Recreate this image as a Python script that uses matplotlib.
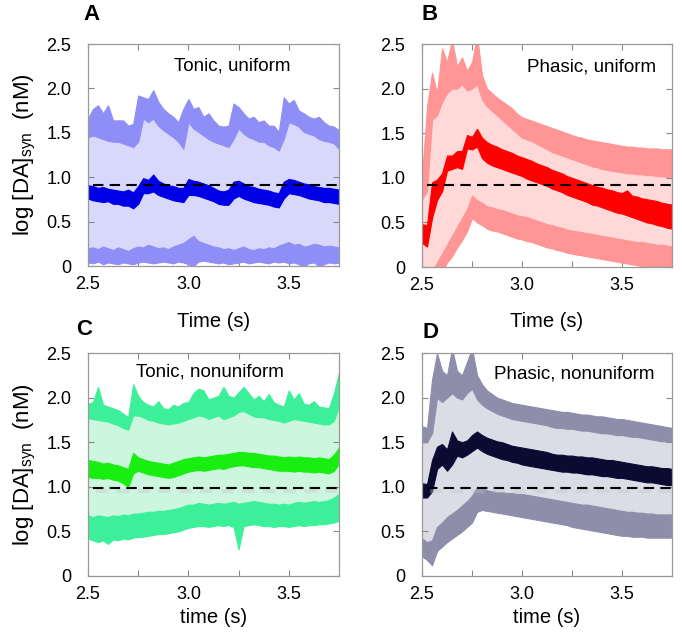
import numpy as np
import matplotlib
matplotlib.use('Agg')
import matplotlib.pyplot as plt

plt.rcParams['font.family'] = ['Liberation Sans', 'DejaVu Sans']
plt.rcParams['mathtext.fontset'] = 'custom'
plt.rcParams['mathtext.rm'] = 'Liberation Sans'

# sample times (s), every 0.025 s
T = np.linspace(2.5, 3.75, 51)

# ---- A: tonic, uniform ----
A_UP_HI = [1.66, 1.77, 1.81, 1.72, 1.81, 1.64, 1.64, 1.64, 1.58, 1.60, 1.92, 1.90, 1.88, 1.98, 1.85,
           1.77, 1.72, 1.68, 1.62, 1.77, 1.88, 1.77, 1.79, 1.68, 1.72, 1.64, 1.58, 1.57, 1.58, 1.83,
           1.79, 1.72, 1.66, 1.68, 1.62, 1.64, 1.58, 1.58, 1.51, 1.90, 1.83, 1.87, 1.75, 1.72, 1.68,
           1.66, 1.68, 1.62, 1.58, 1.57, 1.53]
A_UP_LO = [1.45, 1.47, 1.45, 1.43, 1.41, 1.40, 1.40, 1.38, 1.36, 1.34, 1.40, 1.66, 1.62, 1.66, 1.58,
           1.53, 1.49, 1.45, 1.40, 1.32, 1.62, 1.55, 1.51, 1.47, 1.43, 1.40, 1.38, 1.36, 1.34, 1.43,
           1.55, 1.49, 1.45, 1.43, 1.40, 1.40, 1.36, 1.34, 1.30, 1.43, 1.62, 1.60, 1.57, 1.51, 1.49,
           1.47, 1.43, 1.41, 1.40, 1.38, 1.32]
A_MEAN_HI = [0.91, 0.90, 0.88, 0.89, 0.87, 0.86, 0.85, 0.84, 0.86, 0.83, 0.90, 0.99, 0.97, 1.03, 0.96,
             0.93, 0.91, 0.90, 0.88, 0.88, 0.98, 0.96, 0.95, 0.93, 0.91, 0.88, 0.85, 0.84, 0.86, 0.95,
             0.96, 0.93, 0.90, 0.89, 0.87, 0.86, 0.85, 0.83, 0.82, 0.95, 0.98, 0.97, 0.95, 0.93, 0.92,
             0.90, 0.89, 0.88, 0.88, 0.87, 0.86]
A_MEAN_LO = [0.76, 0.74, 0.73, 0.72, 0.73, 0.70, 0.70, 0.68, 0.68, 0.65, 0.70, 0.82, 0.82, 0.84, 0.80,
             0.78, 0.76, 0.74, 0.73, 0.72, 0.80, 0.80, 0.79, 0.77, 0.75, 0.73, 0.70, 0.69, 0.69, 0.76,
             0.79, 0.76, 0.74, 0.72, 0.71, 0.70, 0.69, 0.67, 0.66, 0.76, 0.82, 0.81, 0.80, 0.78, 0.76,
             0.75, 0.74, 0.72, 0.72, 0.71, 0.70]
A_LOW_HI = [0.20, 0.21, 0.19, 0.22, 0.20, 0.18, 0.21, 0.19, 0.17, 0.20, 0.22, 0.21, 0.24, 0.22, 0.20,
            0.21, 0.19, 0.22, 0.24, 0.26, 0.30, 0.34, 0.28, 0.26, 0.24, 0.22, 0.21, 0.19, 0.20, 0.18,
            0.20, 0.22, 0.19, 0.18, 0.20, 0.19, 0.21, 0.20, 0.23, 0.25, 0.27, 0.24, 0.25, 0.22, 0.23,
            0.25, 0.24, 0.22, 0.23, 0.22, 0.21]
A_LOW_LO = [0.04, 0.03, 0.05, 0.02, 0.04, 0.03, 0.02, 0.04, 0.03, 0.02, 0.04, 0.05, 0.04, 0.03, 0.04,
            0.05, 0.04, 0.03, 0.05, 0.04, 0.02, 0.00, 0.05, 0.06, 0.05, 0.04, 0.03, 0.04, 0.02, 0.03,
            0.04, 0.05, 0.03, 0.04, 0.05, 0.04, 0.03, 0.05, 0.04, 0.05, 0.03, 0.04, 0.02, 0.00, 0.03,
            0.04, 0.00, 0.02, 0.04, 0.03, 0.04]

# ---- B: phasic, uniform ----
B_UP_HI = [1.02, 1.80, 2.18, 1.95, 2.45, 2.30, 2.55, 2.25, 2.35, 2.20, 2.30, 2.60, 2.15, 2.00, 1.95,
           1.90, 1.86, 1.82, 1.78, 1.72, 1.68, 1.66, 1.64, 1.62, 1.60, 1.58, 1.56, 1.54, 1.52, 1.50,
           1.48, 1.46, 1.45, 1.43, 1.42, 1.41, 1.40, 1.39, 1.38, 1.37, 1.36, 1.35, 1.35, 1.34, 1.34,
           1.33, 1.33, 1.33, 1.32, 1.32, 1.32]
B_UP_LO = [0.76, 0.85, 1.65, 1.70, 1.85, 1.95, 2.00, 2.00, 2.05, 1.98, 2.00, 2.05, 1.88, 1.80, 1.75,
           1.70, 1.65, 1.60, 1.55, 1.50, 1.45, 1.43, 1.41, 1.38, 1.35, 1.32, 1.29, 1.27, 1.25, 1.23,
           1.21, 1.19, 1.17, 1.15, 1.13, 1.12, 1.10, 1.09, 1.08, 1.07, 1.06, 1.05, 1.05, 1.04, 1.04,
           1.03, 1.03, 1.02, 1.02, 1.01, 1.01]
B_MEAN_HI = [0.48, 0.47, 0.95, 0.98, 1.05, 1.25, 1.25, 1.30, 1.30, 1.48, 1.46, 1.55, 1.45, 1.40, 1.37,
             1.35, 1.32, 1.30, 1.28, 1.25, 1.23, 1.21, 1.19, 1.16, 1.14, 1.12, 1.09, 1.07, 1.05, 1.02,
             1.00, 0.98, 0.96, 0.94, 0.92, 0.90, 0.89, 0.87, 0.86, 0.84, 0.83, 0.86, 0.80, 0.79, 0.77,
             0.76, 0.75, 0.74, 0.72, 0.71, 0.70]
B_MEAN_LO = [0.27, 0.23, 0.55, 0.75, 0.85, 1.08, 1.10, 1.12, 1.10, 1.33, 1.32, 1.35, 1.22, 1.17, 1.14,
             1.12, 1.10, 1.08, 1.06, 1.04, 1.02, 0.99, 0.97, 0.95, 0.93, 0.91, 0.88, 0.86, 0.84, 0.81,
             0.79, 0.77, 0.75, 0.73, 0.70, 0.69, 0.67, 0.65, 0.63, 0.61, 0.60, 0.58, 0.56, 0.54, 0.52,
             0.50, 0.49, 0.47, 0.46, 0.44, 0.43]
B_LOW_HI = [-0.20, -0.20, -0.05, 0.05, 0.15, 0.25, 0.35, 0.45, 0.55, 0.65, 0.80, 0.75, 0.72, 0.68, 0.67,
            0.65, 0.64, 0.62, 0.60, 0.58, 0.57, 0.56, 0.54, 0.52, 0.50, 0.48, 0.47, 0.45, 0.44, 0.42,
            0.41, 0.40, 0.39, 0.38, 0.37, 0.36, 0.35, 0.34, 0.33, 0.32, 0.31, 0.30, 0.29, 0.28, 0.28,
            0.27, 0.26, 0.25, 0.25, 0.24, 0.23]
B_LOW_LO = [-0.50, -0.50, -0.40, -0.20, -0.05, 0.05, 0.12, 0.22, 0.30, 0.40, 0.55, 0.50, 0.47, 0.43, 0.41,
            0.40, 0.38, 0.36, 0.34, 0.32, 0.31, 0.29, 0.28, 0.26, 0.24, 0.22, 0.21, 0.19, 0.18, 0.16,
            0.15, 0.14, 0.13, 0.12, 0.11, 0.10, 0.09, 0.08, 0.07, 0.06, 0.05, 0.04, 0.03, 0.02, 0.01,
            0.00, -0.01, -0.02, -0.03, -0.04, -0.05]

# ---- C: tonic, nonuniform ----
C_UP_HI = [1.93, 1.95, 2.12, 1.92, 1.90, 1.88, 1.86, 1.82, 1.78, 2.15, 2.02, 1.95, 1.92, 1.90, 1.96,
           1.88, 1.87, 1.92, 1.90, 1.94, 1.95, 2.05, 2.10, 2.08, 1.98, 2.00, 2.02, 2.12, 2.02, 2.00,
           2.06, 2.12, 2.05, 1.98, 2.02, 1.96, 2.04, 1.95, 1.92, 1.90, 2.08, 1.98, 2.05, 1.93, 1.92,
           1.96, 1.90, 1.89, 1.88, 2.05, 2.28]
C_UP_LO = [1.77, 1.76, 1.75, 1.74, 1.73, 1.71, 1.69, 1.66, 1.64, 1.80, 1.80, 1.78, 1.75, 1.74, 1.72,
           1.71, 1.70, 1.71, 1.72, 1.74, 1.76, 1.78, 1.80, 1.79, 1.76, 1.78, 1.80, 1.76, 1.78, 1.80,
           1.84, 1.85, 1.82, 1.79, 1.78, 1.78, 1.76, 1.75, 1.74, 1.72, 1.74, 1.76, 1.75, 1.74, 1.73,
           1.72, 1.71, 1.70, 1.70, 1.74, 1.90]
C_MEAN_HI = [1.30, 1.29, 1.28, 1.26, 1.27, 1.25, 1.24, 1.22, 1.20, 1.38, 1.33, 1.31, 1.29, 1.28, 1.27,
             1.26, 1.25, 1.27, 1.29, 1.31, 1.32, 1.33, 1.34, 1.33, 1.34, 1.35, 1.36, 1.36, 1.37, 1.38,
             1.39, 1.39, 1.38, 1.38, 1.37, 1.36, 1.35, 1.35, 1.34, 1.33, 1.34, 1.33, 1.34, 1.33, 1.33,
             1.32, 1.33, 1.32, 1.31, 1.36, 1.44]
C_MEAN_LO = [1.11, 1.10, 1.10, 1.09, 1.10, 1.08, 1.07, 1.04, 1.00, 1.15, 1.18, 1.16, 1.14, 1.13, 1.12,
             1.11, 1.10, 1.11, 1.13, 1.15, 1.17, 1.18, 1.19, 1.18, 1.19, 1.20, 1.21, 1.20, 1.22, 1.23,
             1.24, 1.24, 1.23, 1.22, 1.22, 1.21, 1.20, 1.19, 1.18, 1.18, 1.18, 1.17, 1.18, 1.17, 1.17,
             1.16, 1.17, 1.16, 1.15, 1.18, 1.26]
C_LOW_HI = [0.68, 0.66, 0.68, 0.67, 0.66, 0.68, 0.67, 0.69, 0.68, 0.70, 0.70, 0.71, 0.72, 0.72, 0.73,
            0.73, 0.74, 0.75, 0.76, 0.78, 0.80, 0.80, 0.82, 0.81, 0.80, 0.81, 0.82, 0.81, 0.82, 0.83,
            0.81, 0.82, 0.83, 0.84, 0.83, 0.82, 0.81, 0.81, 0.80, 0.81, 0.80, 0.82, 0.83, 0.82, 0.83,
            0.84, 0.83, 0.84, 0.85, 0.88, 0.92]
C_LOW_LO = [0.42, 0.40, 0.38, 0.40, 0.36, 0.41, 0.40, 0.42, 0.41, 0.43, 0.44, 0.44, 0.45, 0.46, 0.47,
            0.47, 0.48, 0.49, 0.50, 0.52, 0.54, 0.55, 0.56, 0.56, 0.55, 0.56, 0.57, 0.56, 0.57, 0.55,
            0.30, 0.56, 0.57, 0.58, 0.57, 0.56, 0.56, 0.55, 0.56, 0.56, 0.55, 0.56, 0.57, 0.56, 0.57,
            0.57, 0.58, 0.58, 0.59, 0.60, 0.62]

# ---- D: phasic, nonuniform ----
D_UP_HI = [1.68, 1.66, 2.20, 2.50, 2.30, 2.25, 2.55, 2.30, 2.25, 2.40, 2.55, 2.25, 2.15, 2.08, 2.04,
           2.00, 1.98, 1.96, 1.94, 1.93, 1.92, 1.91, 1.90, 1.89, 1.88, 1.87, 1.86, 1.85, 1.84, 1.84,
           1.83, 1.82, 1.81, 1.81, 1.80, 1.79, 1.79, 1.78, 1.77, 1.76, 1.76, 1.75, 1.74, 1.73, 1.72,
           1.71, 1.70, 1.69, 1.68, 1.67, 1.66]
D_UP_LO = [1.50, 1.50, 1.60, 2.00, 1.95, 2.00, 2.05, 2.00, 1.98, 2.05, 2.10, 1.98, 1.92, 1.88, 1.85,
           1.82, 1.80, 1.78, 1.76, 1.75, 1.74, 1.73, 1.72, 1.71, 1.70, 1.69, 1.67, 1.66, 1.66, 1.65,
           1.65, 1.64, 1.63, 1.63, 1.62, 1.61, 1.60, 1.60, 1.59, 1.58, 1.58, 1.57, 1.56, 1.56, 1.55,
           1.54, 1.53, 1.52, 1.51, 1.51, 1.50]
D_MEAN_HI = [1.04, 1.03, 1.30, 1.45, 1.48, 1.42, 1.62, 1.52, 1.50, 1.52, 1.58, 1.62, 1.58, 1.55, 1.53,
             1.51, 1.50, 1.48, 1.46, 1.45, 1.44, 1.43, 1.42, 1.41, 1.40, 1.39, 1.37, 1.36, 1.36, 1.35,
             1.35, 1.34, 1.34, 1.33, 1.33, 1.32, 1.31, 1.30, 1.30, 1.29, 1.28, 1.27, 1.26, 1.25, 1.24,
             1.23, 1.23, 1.22, 1.21, 1.21, 1.20]
D_MEAN_LO = [0.88, 0.88, 0.95, 1.20, 1.25, 1.18, 1.25, 1.35, 1.33, 1.36, 1.40, 1.44, 1.40, 1.37, 1.35,
             1.33, 1.31, 1.30, 1.28, 1.27, 1.25, 1.24, 1.23, 1.22, 1.21, 1.20, 1.19, 1.18, 1.17, 1.17,
             1.16, 1.16, 1.15, 1.14, 1.14, 1.13, 1.12, 1.12, 1.11, 1.10, 1.10, 1.09, 1.08, 1.07, 1.06,
             1.05, 1.05, 1.04, 1.03, 1.02, 1.02]
D_LOW_HI = [0.42, 0.38, 0.40, 0.55, 0.60, 0.66, 0.70, 0.74, 0.79, 0.84, 0.90, 1.00, 0.98, 0.96, 0.95,
            0.94, 0.94, 0.93, 0.93, 0.92, 0.92, 0.91, 0.90, 0.89, 0.88, 0.87, 0.86, 0.85, 0.84, 0.83,
            0.82, 0.81, 0.80, 0.80, 0.79, 0.78, 0.77, 0.76, 0.75, 0.74, 0.73, 0.72, 0.72, 0.71, 0.71,
            0.70, 0.70, 0.69, 0.69, 0.69, 0.69]
D_LOW_LO = [0.22, 0.18, 0.12, 0.28, 0.33, 0.38, 0.42, 0.46, 0.50, 0.55, 0.60, 0.72, 0.74, 0.73, 0.72,
            0.71, 0.70, 0.69, 0.68, 0.67, 0.66, 0.65, 0.64, 0.63, 0.62, 0.61, 0.60, 0.59, 0.58, 0.57,
            0.55, 0.54, 0.53, 0.52, 0.51, 0.50, 0.49, 0.48, 0.47, 0.46, 0.45, 0.45, 0.44, 0.44, 0.44,
            0.43, 0.43, 0.43, 0.43, 0.43, 0.43]

# dashed reference levels
REF = {'A': 0.915, 'B': 0.92, 'C': 0.99, 'D': 0.99}

PANELS = [
    # letter, rect, title, title pos, xlabel, xlabel pad, ylabel?, colours (fill, band, mean), traces
    ('A', [0.129, 0.5824, 0.368, 0.3485], 'Tonic, uniform', (0.574, 0.90), 'Time (s)', 14, True,
     ('#d8d8fa', '#8e8ef6', '#0000e6'),
     (A_UP_LO, A_UP_HI, A_MEAN_LO, A_MEAN_HI, A_LOW_LO, A_LOW_HI)),
    ('B', [0.6188, 0.5808, 0.3666, 0.350], 'Phasic, uniform', (0.68, 0.897), 'Time (s)', 13, False,
     ('#ffd8d8', '#ff9595', '#ff0000'),
     (B_UP_LO, B_UP_HI, B_MEAN_LO, B_MEAN_HI, B_LOW_LO, B_LOW_HI)),
    ('C', [0.129, 0.0958, 0.368, 0.350], 'Tonic, nonuniform', (0.486, 0.915), 'time (s)', 4, True,
     ('#ccf6de', '#3cf09a', '#18ee10'),
     (C_UP_LO, C_UP_HI, C_MEAN_LO, C_MEAN_HI, C_LOW_LO, C_LOW_HI)),
    ('D', [0.6188, 0.0958, 0.3666, 0.350], 'Phasic, nonuniform', (0.61, 0.906), 'time (s)', 4, False,
     ('#dcdce6', '#8e8eaa', '#0a0a32'),
     (D_UP_LO, D_UP_HI, D_MEAN_LO, D_MEAN_HI, D_LOW_LO, D_LOW_HI)),
]

fig = plt.figure(figsize=(6.82, 6.37), dpi=100)

for letter, rect, title, tpos, xlab, xpad, show_ylab, cols, tr in PANELS:
    ax = fig.add_axes(rect)
    up_lo, up_hi, m_lo, m_hi, lo_lo, lo_hi = [np.asarray(v) for v in tr]
    fill_c, band_c, mean_c = cols
    ax.fill_between(T, lo_lo, up_hi, color=fill_c, lw=0, zorder=1)
    for lo, hi, c in [(up_lo, up_hi, band_c), (lo_lo, lo_hi, band_c), (m_lo, m_hi, mean_c)]:
        ax.fill_between(T, lo, hi, color=c, lw=0.8, edgecolor=c, zorder=2)
    ref = REF[letter]
    if letter in ('C', 'D'):
        # soft grey shadow under the dashed line
        ax.axhline(ref - 0.04, xmin=0.03, xmax=1.0, color='#c4c4c4', lw=3, alpha=0.35,
                   dashes=(3, 2), zorder=3)
    ax.axhline(ref, xmin=0.02, xmax=1.01, color='black', lw=1.5, dashes=(5, 3),
               zorder=4, clip_on=False)

    ax.set_xlim(2.5, 3.75)
    ax.set_ylim(0, 2.5)
    ax.set_xticks([2.5, 2.75, 3.0, 3.25, 3.5])
    ax.set_xticklabels(['2.5', '', '3.0', '', '3.5'])
    ax.set_yticks([0, 0.5, 1.0, 1.5, 2.0, 2.5])
    ax.set_yticklabels(['0', '0.5', '1.0', '1.5', '2.0', '2.5'])
    ax.tick_params(direction='in', top=True, right=True, length=4, width=0.8,
                   color='#888888', labelsize=13)
    ax.tick_params(axis='y', pad=12)
    ax.tick_params(axis='x', pad=7)
    for sp in ax.spines.values():
        sp.set_color('#999999')
        sp.set_linewidth(0.9)

    ax.text(tpos[0], tpos[1], title, transform=ax.transAxes, ha='center', va='center',
            fontsize=13.5, zorder=5)
    ax.set_xlabel(xlab, fontsize=14.5, labelpad=xpad)
    if show_ylab:
        ax.set_ylabel(r'log [DA]$_{\rm syn}$  (nM)', fontsize=16, labelpad=6)

# panel letters
for letter, x, y in [('A', 92, 15), ('B', 430, 15), ('C', 84, 330), ('D', 430, 332)]:
    fig.text(x / 682, 1 - y / 637, letter, fontsize=16, fontweight='bold',
             ha='center', va='center')

fig.savefig('out.png', dpi=100)
